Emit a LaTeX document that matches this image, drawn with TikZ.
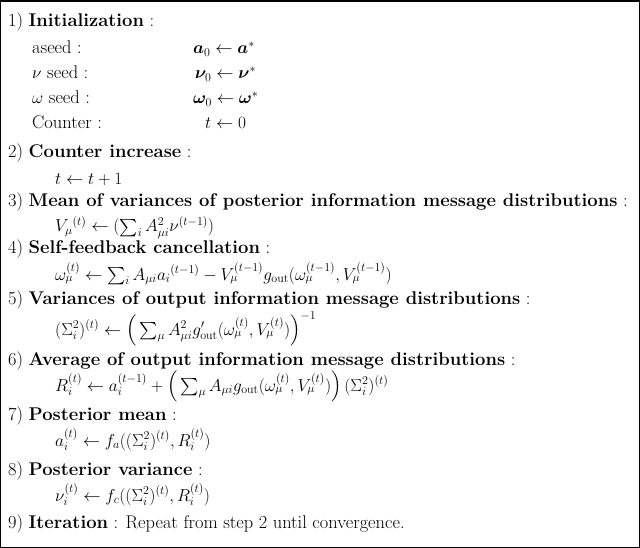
\documentclass[tikz,border=0pt]{standalone}
\usepackage{amsmath,bm}
\begin{document}
\begin{tikzpicture}[x=1pt,y=-1pt,
  t/.style={anchor=base west,inner sep=0pt,font=\fontsize{18.4}{21}\selectfont}]
\useasboundingbox (0,0) rectangle (640,548);
\draw[line width=1.2] (0.6,0.6) rectangle (639.4,547.4);
\draw[line width=2] (0,1.5) -- (640,1.5);
\node[t] (s1) at (8,27) {1) \textbf{Initialization} :};
\node[t] (l1) at (32,54) {aseed :};
\node[t] (l2) at (32,79) {$\nu$ seed :};
\node[t] (l3) at (32,104) {$\omega$ seed :};
\node[t] (l4) at (32,129) {Counter :};
\node[t] (r1) at (193,54) {$\bm{a}_0 \leftarrow \bm{a}^*$};
\node[t] (r2) at (195,79) {$\bm{\nu}_0 \leftarrow \bm{\nu}^*$};
\node[t] (r3) at (193,104) {$\bm{\omega}_0 \leftarrow \bm{\omega}^*$};
\node[t] (r4) at (205,129) {$t \leftarrow 0$};
\node[t] (s2) at (8,158) {2) \textbf{Counter increase} :};
\node[t] (f2) at (55,185) {$t \leftarrow t+1$};
\node[t] (s3) at (8,207) {3) \textbf{Mean of variances of posterior information message distributions} :};
\node[t] (f3) at (55,232) {$V_\mu{}^{(t)} \leftarrow (\textstyle\sum_i A_{\mu i}^2 \nu^{(t-1)})$};
\node[t] (s4) at (8,254) {4) \textbf{Self-feedback cancellation} :};
\node[t] (f4) at (55,280) {$\omega_\mu^{(t)} \leftarrow \textstyle\sum_i A_{\mu i} a_i{}^{(t-1)} - V_\mu^{(t-1)} g_{\mathrm{out}}(\omega_\mu^{(t-1)}, V_\mu^{(t-1)})$};
\node[t] (s5) at (8,305) {5) \textbf{Variances of output information message distributions} :};
\node[t] (f5) at (55,335) {$(\Sigma_i^2)^{(t)} \leftarrow \Big(\textstyle\sum_\mu A_{\mu i}^2 g'_{\mathrm{out}}(\omega_\mu^{(t)}, V_\mu^{(t)})\Big)^{-1}$};
\node[t] (s6) at (8,365) {6) \textbf{Average of output information message distributions} :};
\node[t] (f6) at (55,391) {$R_i^{(t)} \leftarrow a_i^{(t-1)} + \Big(\textstyle\sum_\mu A_{\mu i} g_{\mathrm{out}}(\omega_\mu^{(t)}, V_\mu^{(t)})\Big)\,(\Sigma_i^2)^{(t)}$};
\node[t] (s7) at (8,420) {7) \textbf{Posterior mean} :};
\node[t] (f7) at (55,446) {$a_i^{(t)} \leftarrow f_a((\Sigma_i^2)^{(t)}, R_i^{(t)})$};
\node[t] (s8) at (8,475) {8) \textbf{Posterior variance} :};
\node[t] (f8) at (55,501) {$\nu_i^{(t)} \leftarrow f_c((\Sigma_i^2)^{(t)}, R_i^{(t)})$};
\node[t] (s9) at (8,528) {9) \textbf{Iteration} : Repeat from step 2 until convergence.};
\end{tikzpicture}
\end{document}
